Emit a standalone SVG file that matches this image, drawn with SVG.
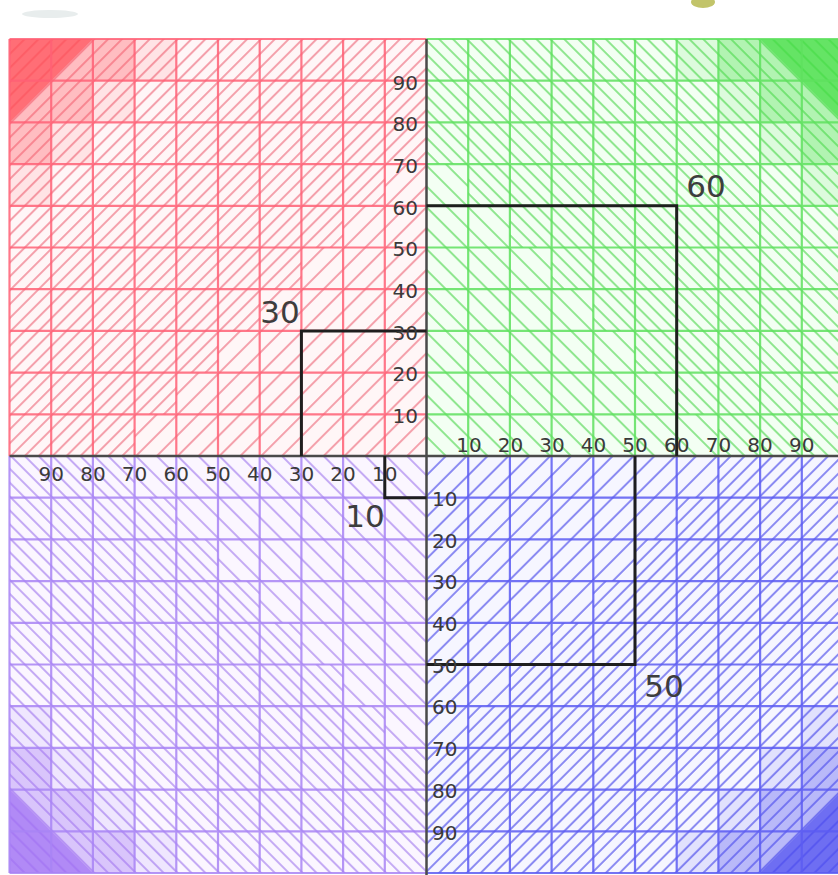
<svg xmlns="http://www.w3.org/2000/svg" xmlns:xlink="http://www.w3.org/1999/xlink" width="838" height="875" viewBox="0 0 838 875">
<style>
.lab{font-family:"DejaVu Sans","Liberation Sans",sans-serif;font-size:20px;fill:#3a3a3a}
.big{font-family:"DejaVu Sans","Liberation Sans",sans-serif;font-size:31px;fill:#3d3d3d;text-anchor:middle}
.mid{text-anchor:middle}
.end{text-anchor:end}
.sq{fill:none;stroke:#1e1e1e;stroke-width:3}
.axis{fill:none;stroke:#4a4a4a;stroke-width:2.5}
</style>
<defs>
<path id="grid" fill="none" d="M0,0V417M41.7,0V417M83.4,0V417M125.1,0V417M166.8,0V417M208.5,0V417M250.2,0V417M291.9,0V417M333.6,0V417M375.3,0V417M0,0H417M0,41.7H417M0,83.4H417M0,125.1H417M0,166.8H417M0,208.5H417M0,250.2H417M0,291.9H417M0,333.6H417M0,375.3H417"/>
<path id="stair3" d="M0,0H166.8V41.7H125.1V83.4H83.4V125.1H41.7V166.8H0Z"/>
<path id="stair2" d="M0,0H125.1V41.7H83.4V83.4H41.7V125.1H0Z"/>
<path id="tri" d="M0,0H83.4L0,83.4Z"/>
<path id="outer" d="M0,0H417V125.1H375.3V166.8H333.6V208.5H291.9V250.2H250.2V291.9H208.5V333.6H166.8V375.3H125.1V417H0Z"/>
<mask id="mD" maskUnits="userSpaceOnUse" x="-5" y="-5" width="430" height="430"><use href="#outer" fill="#fff"/></mask>
<mask id="mS" maskUnits="userSpaceOnUse" x="-5" y="-5" width="430" height="430"><rect width="417" height="417" fill="#fff"/><use href="#outer" fill="#000"/></mask>
<pattern id="sR" width="20" height="14.743" patternUnits="userSpaceOnUse" patternTransform="rotate(-45)"><rect width="20" height="2" fill="#f4a0ab"/></pattern>
<pattern id="dR" width="20" height="9.829" patternUnits="userSpaceOnUse" patternTransform="rotate(-45)"><rect width="20" height="2" fill="#f4a0ab"/></pattern>
<pattern id="sG" width="20" height="14.743" patternUnits="userSpaceOnUse" patternTransform="rotate(-45)"><rect width="20" height="2" fill="#8fe68f"/></pattern>
<pattern id="dG" width="20" height="9.829" patternUnits="userSpaceOnUse" patternTransform="rotate(-45)"><rect width="20" height="2" fill="#8fe68f"/></pattern>
<pattern id="sB" width="20" height="14.743" patternUnits="userSpaceOnUse" patternTransform="rotate(-45)"><rect width="20" height="2" fill="#8a8af2"/></pattern>
<pattern id="dB" width="20" height="9.829" patternUnits="userSpaceOnUse" patternTransform="rotate(-45)"><rect width="20" height="2" fill="#8a8af2"/></pattern>
<pattern id="sP" width="20" height="14.743" patternUnits="userSpaceOnUse" patternTransform="rotate(-45)"><rect width="20" height="2" fill="#c4aaf4"/></pattern>
<pattern id="dP" width="20" height="9.829" patternUnits="userSpaceOnUse" patternTransform="rotate(-45)"><rect width="20" height="2" fill="#c4aaf4"/></pattern>
</defs>
<rect width="838" height="875" fill="#ffffff"/>
<ellipse cx="50" cy="14" rx="28" ry="4" fill="#e8eded"/>
<ellipse cx="703" cy="2" rx="12" ry="6" fill="#c2c46a"/>

<g id="quadrant-red" transform="translate(9.5,39)">
<rect width="417" height="417" fill="#fff6f7"/>
<rect width="417" height="417" fill="url(#sR)" mask="url(#mS)"/>
<rect width="417" height="417" fill="url(#dR)" mask="url(#mD)"/>
<use href="#stair3" fill="#ff5a66" fill-opacity="0.12"/>
<use href="#stair2" fill="#ff5a66" fill-opacity="0.28"/>
<use href="#tri" fill="#ff4d55" fill-opacity="0.7"/>
<use href="#grid" stroke="#ff6075" stroke-width="2.2" stroke-opacity="0.85"/>
</g>
<g id="quadrant-green" transform="translate(843.5,39) scale(-1,1)">
<rect width="417" height="417" fill="#f3fff3"/>
<rect width="417" height="417" fill="url(#sG)" mask="url(#mS)"/>
<rect width="417" height="417" fill="url(#dG)" mask="url(#mD)"/>
<use href="#stair3" fill="#44dd44" fill-opacity="0.12"/>
<use href="#stair2" fill="#44dd44" fill-opacity="0.28"/>
<use href="#tri" fill="#44dd44" fill-opacity="0.7"/>
<use href="#grid" stroke="#5ee05e" stroke-width="2.2" stroke-opacity="0.85"/>
</g>
<g id="quadrant-blue" transform="translate(843.5,873) scale(-1,-1)">
<rect width="417" height="417" fill="#f6f6ff"/>
<rect width="417" height="417" fill="url(#sB)" mask="url(#mS)"/>
<rect width="417" height="417" fill="url(#dB)" mask="url(#mD)"/>
<use href="#stair3" fill="#4f4ff0" fill-opacity="0.12"/>
<use href="#stair2" fill="#4f4ff0" fill-opacity="0.28"/>
<use href="#tri" fill="#4f4ff0" fill-opacity="0.7"/>
<use href="#grid" stroke="#5c5cf2" stroke-width="2.2" stroke-opacity="0.85"/>
</g>
<g id="quadrant-purple" transform="translate(9.5,873) scale(1,-1)">
<rect width="417" height="417" fill="#fbf6ff"/>
<rect width="417" height="417" fill="url(#sP)" mask="url(#mS)"/>
<rect width="417" height="417" fill="url(#dP)" mask="url(#mD)"/>
<use href="#stair3" fill="#a070f4" fill-opacity="0.12"/>
<use href="#stair2" fill="#a070f4" fill-opacity="0.28"/>
<use href="#tri" fill="#a070f4" fill-opacity="0.7"/>
<use href="#grid" stroke="#a884f4" stroke-width="2.2" stroke-opacity="0.85"/>
</g>

<g id="connectors">
<path class="axis" d="M426.5,39V875M9.5,456H838"/>
<path class="sq" d="M426.5,205.8H676.7V456"/>
<path class="sq" d="M426.5,330.9H301.4V456"/>
<path class="sq" d="M384.8,456V497.7H426.5"/>
<path class="sq" d="M426.5,664.5H635V456"/>
</g>

<g id="labels-up" class="lab end">
<text x="418" y="422.5">10</text>
<text x="418" y="381">20</text>
<text x="418" y="339.5">30</text>
<text x="418" y="297.5">40</text>
<text x="418" y="256">50</text>
<text x="418" y="214.5">60</text>
<text x="418" y="172.5">70</text>
<text x="418" y="131">80</text>
<text x="418" y="89.5">90</text>
</g>
<g id="labels-right" class="lab mid">
<text x="469" y="452">10</text>
<text x="510.5" y="452">20</text>
<text x="552" y="452">30</text>
<text x="593.5" y="452">40</text>
<text x="635" y="452">50</text>
<text x="676.7" y="452">60</text>
<text x="718.4" y="452">70</text>
<text x="760.1" y="452">80</text>
<text x="801.8" y="452">90</text>
</g>
<g id="labels-left" class="lab mid">
<text x="51.2" y="481">90</text>
<text x="92.9" y="481">80</text>
<text x="134.6" y="481">70</text>
<text x="176.3" y="481">60</text>
<text x="218" y="481">50</text>
<text x="259.7" y="481">40</text>
<text x="301.4" y="481">30</text>
<text x="343.1" y="481">20</text>
<text x="384.8" y="481">10</text>
</g>
<g id="labels-down" class="lab">
<text x="432" y="506">10</text>
<text x="432" y="547.5">20</text>
<text x="432" y="589">30</text>
<text x="432" y="631">40</text>
<text x="432" y="672.5">50</text>
<text x="432" y="714">60</text>
<text x="432" y="756">70</text>
<text x="432" y="797.5">80</text>
<text x="432" y="839.5">90</text>
</g>
<g id="square-labels" class="big">
<text x="706" y="197">60</text>
<text x="280" y="323">30</text>
<text x="365" y="527">10</text>
<text x="664" y="697">50</text>
</g>
</svg>
